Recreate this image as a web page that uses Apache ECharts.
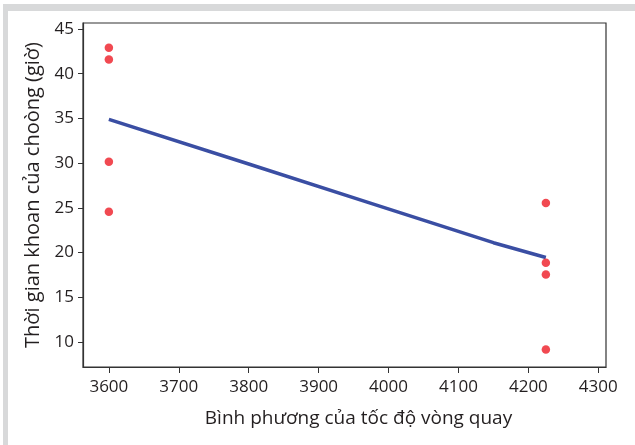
<!DOCTYPE html>
<html><head><meta charset="utf-8">
<script src="https://cdn.jsdelivr.net/npm/echarts@6/dist/echarts.min.js"></script>
<style>html,body{margin:0;padding:0;background:#fff}#c{width:635px;height:445px}</style>
</head><body><div id="c"></div>
<script>
const xTickLabels = [3600, 3700, 3800, 3900, 4000, 4100, 4200, 4300];
const yTickLabels = [10, 15, 20, 25, 30, 35, 40, 45];
const pointX = [3600, 3600, 3600, 3600, 4225, 4225, 4225, 4225];
const pointY = [42.9, 41.6, 30.15, 24.55, 25.55, 18.85, 17.55, 9.15];
const fitX = [3600, 3800, 3975, 4150, 4225];
const fitY = [34.9, 29.9, 25.5, 21.1, 19.45];
const xAxisTitle = 'Bình phương của tốc độ vòng quay';
const yAxisTitle = 'Thời gian khoan của choòng (giờ)';

const font = 'Open Sans';
const txt = '#231f20';
const chart = echarts.init(document.getElementById('c'), null, {renderer: 'canvas'});
chart.setOption({
  animation: false,
  backgroundColor: 'transparent',
  graphic: [
    {type: 'rect', shape: {x: 3, y: 4, width: 632, height: 7}, style: {fill: '#d8d9da'}, z: -10},
    {type: 'rect', shape: {x: 3, y: 4, width: 5, height: 441}, style: {fill: '#d8d9da'}, z: -10}
  ],
  grid: {left: 83, right: 29, top: 23, bottom: 78, show: true, borderColor: '#333', borderWidth: 1.2, backgroundColor: '#fff'},
  xAxis: {
    type: 'value', min: 3563, max: 4311,
    name: xAxisTitle, nameLocation: 'middle', nameGap: 42,
    nameTextStyle: {fontFamily: font, fontSize: 19, color: txt, padding: [0, 0, 0, 28]},
    splitLine: {show: false},
    axisLine: {show: true, lineStyle: {color: '#333', width: 1.2}},
    axisTick: {show: true, length: 6, customValues: xTickLabels, lineStyle: {color: '#333'}},
    axisLabel: {customValues: xTickLabels, margin: 12, fontFamily: font, fontSize: 17, color: txt,
      formatter: v => String(v)}
  },
  yAxis: {
    type: 'value', min: 7.2, max: 45.67,
    name: yAxisTitle, nameLocation: 'middle', nameGap: 34,
    nameTextStyle: {fontFamily: font, fontSize: 20, color: txt},
    splitLine: {show: false},
    axisLine: {show: true, lineStyle: {color: '#333', width: 1.2}},
    axisTick: {show: true, length: 5, customValues: yTickLabels, lineStyle: {color: '#333'}},
    axisLabel: {customValues: yTickLabels, margin: 9, fontFamily: font, fontSize: 17, color: txt,
      formatter: v => String(v)}
  },
  series: [
    {type: 'line', data: fitX.map((x, i) => [x, fitY[i]]), showSymbol: false, symbol: 'none',
     lineStyle: {color: '#3a4ea3', width: 3.5}, z: 2},
    {type: 'scatter', data: pointX.map((x, i) => [x, pointY[i]]), symbolSize: 8.5,
     itemStyle: {color: '#ee1c25'}, z: 3, clip: false}
  ]
});
</script></body></html>
